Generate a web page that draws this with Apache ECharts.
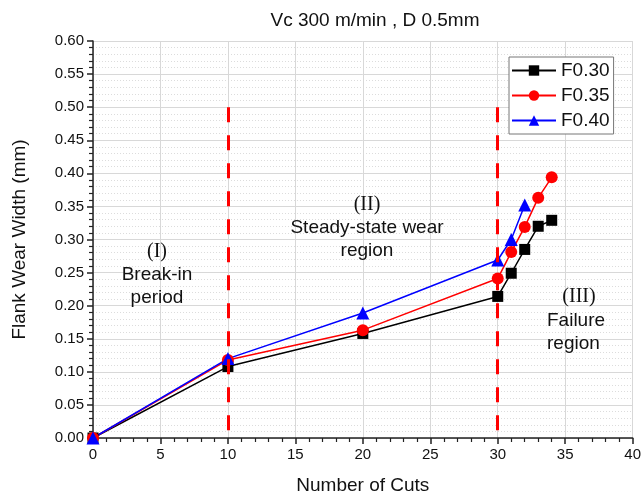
<!DOCTYPE html>
<html>
<head>
<meta charset="utf-8">
<script src="https://cdn.jsdelivr.net/npm/echarts@6/dist/echarts.min.js"></script>
<style>
  html, body { margin: 0; padding: 0; background: #fff; }
  #chart { width: 644px; height: 501px; }
</style>
</head>
<body>
<div id="chart"></div>
<script>
// number of cuts
var cuts = [0, 10, 20, 30, 31, 32, 33, 34]
var f030 = [0, 0.108, 0.158, 0.214, 0.249, 0.285, 0.320, 0.329]
var f035 = [0, 0.118, 0.163, 0.241, 0.281, 0.319, 0.363, 0.394]
var f040 = [0, 0.120, 0.189, 0.269, 0.300, 0.352]
var seriesNames = ['F0.30', 'F0.35', 'F0.40']
var boundaries = [10, 30] // 区域分界线
var boundaryTop = 0.5

function pairs(ys) {
  return ys.map(function (y, i) { return [cuts[i], y] })
}

var font = 'Liberation Sans, Arial, sans-serif'
var serif = 'Liberation Serif, Times New Roman, serif'

var chart = echarts.init(document.getElementById('chart'))

function lineSeries(name, data, color, symbol, size, extra) {
  var s = {
    name: name,
    type: 'line',
    data: pairs(data),
    symbol: symbol,
    symbolSize: size,
    itemStyle: { color: color },
    lineStyle: { color: color, width: 1.5 },
    z: 3,
    animation: false
  }
  return Object.assign(s, extra || {})
}

// 区域说明文字
var notes = [
  { x: 157, y: 252, text: '(I)', serif: true, align: 'center' },
  { x: 157, y: 275, text: 'Break-in', align: 'center' },
  { x: 157, y: 298, text: 'period', align: 'center' },
  { x: 367, y: 205, text: '(II)', serif: true, align: 'center' },
  { x: 367, y: 228, text: 'Steady-state wear', align: 'center' },
  { x: 367, y: 251, text: 'region', align: 'center' },
  { x: 579, y: 297, text: '(III)', serif: true, align: 'center' },
  { x: 547, y: 321, text: 'Failure', align: 'left' },
  { x: 547, y: 344, text: 'region', align: 'left' }
]

chart.setOption({
  title: {
    text: 'Vc 300 m/min , D 0.5mm',
    left: 370,
    top: 6,
    textAlign: 'center',
    textStyle: { fontFamily: font, fontSize: 19, fontWeight: 'normal', color: '#111' }
  },
  grid: { left: 93, right: 10, top: 41, bottom: 63 },
  legend: {
    data: seriesNames,
    orient: 'vertical',
    left: 509,
    top: 57,
    itemWidth: 44,
    itemHeight: 13,
    itemGap: 6,
    padding: [4, 4, 4, 2],
    borderColor: '#777',
    borderWidth: 1,
    backgroundColor: '#fff',
    textStyle: { fontFamily: font, fontSize: 19, color: '#111' }
  },
  xAxis: {
    type: 'value',
    min: 0,
    max: 40,
    interval: 5,
    name: 'Number of Cuts',
    nameLocation: 'middle',
    nameGap: 38,
    nameTextStyle: { fontFamily: font, fontSize: 19, color: '#111' },
    axisLine: { lineStyle: { color: '#222', width: 1.5 } },
    axisTick: { show: true, inside: false, length: 6, lineStyle: { color: '#222', width: 1.5 } },
    minorTick: { show: true, splitNumber: 5, length: 4, lineStyle: { color: '#222', width: 1.2 } },
    axisLabel: { fontFamily: font, fontSize: 15, color: '#111', margin: 9 },
    splitLine: { show: true, lineStyle: { color: '#d8d8d8', width: 1 } }
  },
  yAxis: {
    type: 'value',
    min: 0,
    max: 0.6,
    interval: 0.05,
    name: 'Flank Wear Width (mm)',
    nameLocation: 'middle',
    nameGap: 64,
    nameTextStyle: { fontFamily: font, fontSize: 19, color: '#111' },
    axisLine: { show: true, lineStyle: { color: '#222', width: 1.5 } },
    axisTick: { show: true, inside: false, length: 6, lineStyle: { color: '#222', width: 1.5 } },
    minorTick: { show: true, splitNumber: 5, length: 4, lineStyle: { color: '#222', width: 1.2 } },
    axisLabel: {
      fontFamily: font, fontSize: 15, color: '#111', margin: 9,
      formatter: function (v) { return v.toFixed(2) }
    },
    splitLine: { show: true, lineStyle: { color: '#d8d8d8', width: 1 } },
    minorSplitLine: { show: true, lineStyle: { color: '#dcdcdc', width: 1, type: [1, 2] } }
  },
  series: [
    lineSeries(seriesNames[0], f030, '#000000', 'rect', 11),
    lineSeries(seriesNames[1], f035, '#ff0000', 'circle', 12),
    lineSeries(seriesNames[2], f040, '#0000ff', 'triangle', 13, {
      markLine: {
        silent: true,
        symbol: 'none',
        label: { show: false },
        lineStyle: { color: '#ff0000', width: 3, type: [15, 13] },
        // 从上往下画, 虚线从顶端开始
        data: boundaries.map(function (b) {
          return [{ coord: [b, boundaryTop] }, { coord: [b, 0] }]
        })
      }
    })
  ],
  graphic: notes.map(function (n) {
    return {
      type: 'text',
      x: n.x,
      y: n.y,
      z: 10,
      style: {
        text: n.text,
        fill: '#111',
        font: (n.serif ? '20px ' + serif : '19px ' + font),
        align: n.align,
        verticalAlign: 'middle'
      }
    }
  })
})
</script>
</body>
</html>
